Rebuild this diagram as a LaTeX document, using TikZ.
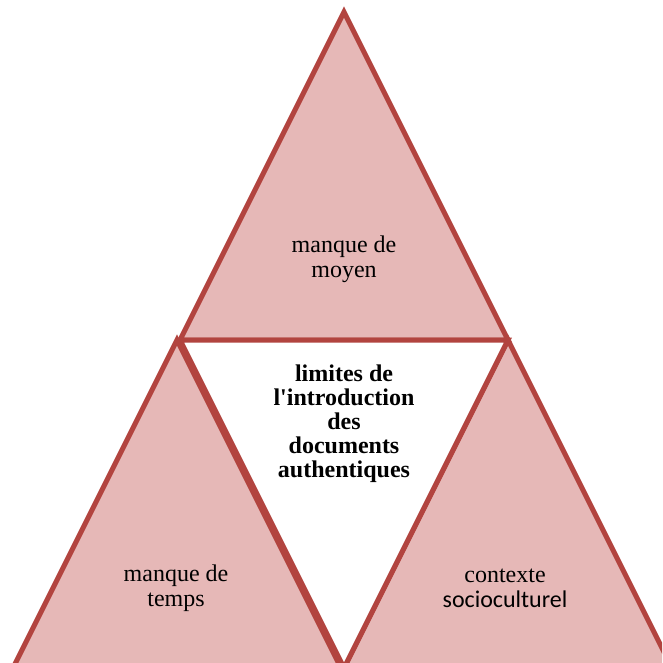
\documentclass[tikz,border=0pt]{standalone}
\usepackage{fontspec}
\setmainfont{Liberation Serif}
\newfontfamily\calib{Carlito}
\newfontfamily\plainser{Liberation Serif}
\definecolor{edg}{HTML}{B2443F}
\definecolor{pnk}{HTML}{E6B8B7}
\tikzset{
  tri/.style  ={draw=edg,line width=3.75pt,fill=pnk,line join=miter},
  ctr/.style  ={draw=edg,line width=3.75pt,fill=white,line join=miter},
  lbl/.style  ={align=center,font=\fontsize{18}{18.8}\selectfont,inner sep=0pt},
  blbl/.style ={align=center,font=\plainser\fontsize{18}{18}\selectfont\bfseries,inner sep=0pt},
}
\begin{document}
\begin{tikzpicture}[x=0.75pt,y=-0.75pt]
\useasboundingbox (0,0) rectangle (662,663);
\clip (0,0) rectangle (662,663);
% ===== outer triangles =====
\draw[tri] (344,12) -- (508,340) -- (180,340) -- cycle;
\draw[tri] (177,340) -- (352,690) -- (2,690) -- cycle;
\draw[tri] (508,340) -- (683,690) -- (333,690) -- cycle;
% ===== centre (inverted) =====
\draw[ctr] (180,340) -- (508,340) -- (344,668) -- cycle;

% ===== labels =====
\node[lbl] (moy) at (344,259) {manque de\\moyen};
\node[lbl] (tps) at (176,588) {manque de\\temps};
\node[lbl] (ctx) at (505,588) {contexte\\{\calib socioculturel}};
\node[blbl] (lim) at (344,424) {limites de\\l'introduction\\des\\documents\\authentiques};
\end{tikzpicture}
\end{document}
